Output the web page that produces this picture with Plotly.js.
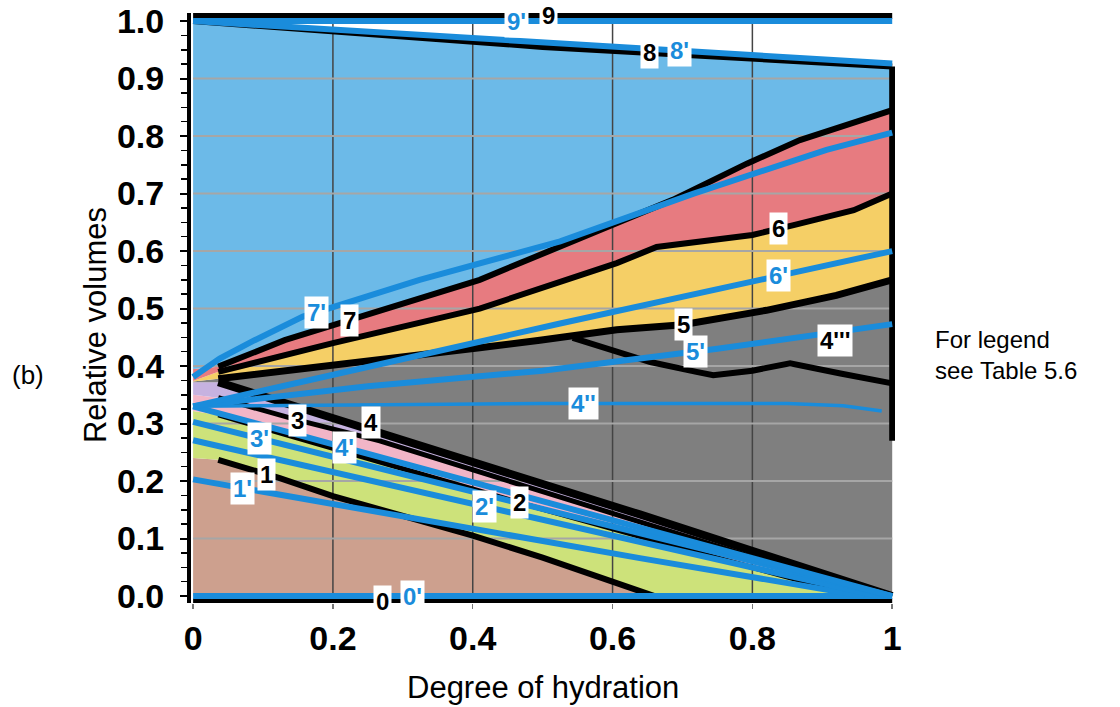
<!DOCTYPE html>
<html><head><meta charset="utf-8">
<script src="https://cdn.plot.ly/plotly-3.0.1.min.js"></script>
<style>html,body{margin:0;padding:0;background:#fff}#chart{width:1120px;height:707px}</style>
</head><body><div id="chart"></div>
<script>
// ---------- data ----------
const xTickVals = [0, 0.2, 0.4, 0.6, 0.8, 1];
const xTickText = ['0', '0.2', '0.4', '0.6', '0.8', '1'];
const yTickVals = [0, 0.1, 0.2, 0.3, 0.4, 0.5, 0.6, 0.7, 0.8, 0.9, 1.0];
const yTickText = ['0.0', '0.1', '0.2', '0.3', '0.4', '0.5', '0.6', '0.7', '0.8', '0.9', '1.0'];

// black boundary curves (model 1)
const line0X = [0, 1];
const line0Y = [-0.009, -0.009];
const line1X = [0, 0.036, 0.124, 0.2, 0.3, 0.4, 0.5, 0.66];
const line1Y = [0.24, 0.237, 0.205, 0.174, 0.14, 0.105, 0.067, 0.0];
const line2X = [0, 0.036, 0.267, 0.468, 0.7, 0.95];
const line2Y = [0.322, 0.315, 0.232, 0.162, 0.083, 0.0];
const line3X = [0, 0.036, 0.15, 0.267, 0.5, 0.7, 0.98];
const line3Y = [0.35, 0.345, 0.306, 0.27, 0.182, 0.106, 0.0];
const line4X = [0, 0.036, 0.267, 0.639, 1.0];
const line4Y = [0.372, 0.372, 0.285, 0.142, 0.0];
const line4tX = [0.543, 0.654, 0.72, 0.744, 0.8, 0.854, 0.926, 1.0];
const line4tY = [0.449, 0.407, 0.39, 0.384, 0.392, 0.405, 0.387, 0.37];
const line5X = [0, 0.036, 0.2, 0.41, 0.496, 0.606, 0.7, 0.82, 0.92, 1.0];
const line5Y = [0.373, 0.378, 0.403, 0.432, 0.445, 0.463, 0.472, 0.497, 0.523, 0.55];
const line6X = [0, 0.036, 0.2, 0.41, 0.525, 0.606, 0.663, 0.8, 0.859, 0.945, 1.0];
const line6Y = [0.374, 0.39, 0.44, 0.50, 0.545, 0.579, 0.607, 0.628, 0.645, 0.671, 0.70];
const line7X = [0, 0.036, 0.131, 0.41, 0.686, 0.792, 0.868, 1.0];
const line7Y = [0.395, 0.399, 0.445, 0.55, 0.689, 0.752, 0.793, 0.845];
const line8X = [0, 0.5, 1.0];
const line8Y = [1.0, 0.955, 0.921];
const line9X = [0, 1];
const line9Y = [1.009, 1.009];
const rightEdgeX = [1, 1];
const rightEdgeY = [0.27, 0.921];

// blue boundary curves (model 2, primed)
const p0X = [0, 1];                 const p0Y = [0, 0];
const p1X = [0, 0.639, 0.96];       const p1Y = [0.203, 0.066, 0.0];
const p2X = [0, 0.98];              const p2Y = [0.271, 0.0];
const p3X = [0, 1.0];               const p3Y = [0.303, 0.0];
const p4X = [0, 1.0];               const p4Y = [0.33, 0.0];
const p4dX = [0, 0.5, 0.85, 0.93, 0.985];
const p4dY = [0.33, 0.335, 0.335, 0.331, 0.322];
const p5X = [0, 0.25, 0.5, 0.75, 1.0];
const p5Y = [0.33, 0.365, 0.392, 0.43, 0.473];
const p6X = [0, 0.525, 1.0];        const p6Y = [0.33, 0.474, 0.60];
const p7X = [0, 0.038, 0.088, 0.157, 0.324, 0.525, 0.716, 0.906, 1.0];
const p7Y = [0.381, 0.413, 0.445, 0.486, 0.55, 0.617, 0.70, 0.776, 0.806];
const p8X = [0, 0.525, 1.0];        const p8Y = [1.0, 0.961, 0.926];
const p9X = [0, 1];                 const p9Y = [1.0, 1.0];

// ---------- styles ----------
const BLUE = '#1a8cdb';
const fillBands = [
  {up: [line1X, line1Y], lo: [p0X, p0Y], color: '#cda08e'},
  {up: [line2X, line2Y], lo: [line1X, line1Y], color: '#cde27a'},
  {up: [line3X, line3Y], lo: [line2X, line2Y], color: '#f2b5c7'},
  {up: [line4X, line4Y], lo: [line3X, line3Y], color: '#c6b2e0'},
  {up: [line5X, line5Y], lo: [line4X, line4Y], color: '#7f7f7f'},
  {up: [line6X, line6Y], lo: [line5X, line5Y], color: '#f5cf66'},
  {up: [line7X, line7Y], lo: [line6X, line6Y], color: '#e77b80'},
  {up: [line8X, line8Y], lo: [line7X, line7Y], color: '#6cbae8'}
];
const blackLines = [
  {c: [line0X, line0Y], w: 6, s: 0},
  {c: [line1X, line1Y], w: 6, s: 1},
  {c: [line2X, line2Y], w: 5, s: 1},
  {c: [line3X, line3Y], w: 5, s: 1},
  {c: [line4X, line4Y], w: 8, s: 1},
  {c: [line4tX, line4tY], w: 6, s: 0},
  {c: [line5X, line5Y], w: 7, s: 1},
  {c: [line6X, line6Y], w: 6, s: 1},
  {c: [line7X, line7Y], w: 6, s: 1},
  {c: [line8X, line8Y], w: 6, s: 0},
  {c: [line9X, line9Y], w: 6, s: 0},
  {c: [rightEdgeX, rightEdgeY], w: 6, s: 0}
];
const blueLines = [
  {c: [p0X, p0Y], w: 6}, {c: [p1X, p1Y], w: 6}, {c: [p2X, p2Y], w: 6},
  {c: [p3X, p3Y], w: 6}, {c: [p4X, p4Y], w: 6}, {c: [p4dX, p4dY], w: 3.5},
  {c: [p5X, p5Y], w: 6}, {c: [p6X, p6Y], w: 6}, {c: [p7X, p7Y], w: 6},
  {c: [p8X, p8Y], w: 6}, {c: [p9X, p9Y], w: 6}
];
// curve labels: text, curve, x where placed, primed (blue) or not, pixel shift
const curveLabels = [
  {t: '0', c: [line0X, line0Y], x: 0.271, p: false},
  {t: "0'", c: [p0X, p0Y], x: 0.314, p: true},
  {t: '1', c: [line1X, line1Y], x: 0.105, p: false},
  {t: "1'", c: [p1X, p1Y], x: 0.071, p: true},
  {t: '2', c: [line2X, line2Y], x: 0.467, p: false},
  {t: "2'", c: [p2X, p2Y], x: 0.417, p: true},
  {t: '3', c: [line3X, line3Y], x: 0.150, p: false},
  {t: "3'", c: [p3X, p3Y], x: 0.095, p: true},
  {t: '4', c: [line4X, line4Y], x: 0.255, p: false, dy: 7},
  {t: "4'", c: [p4X, p4Y], x: 0.217, p: true},
  {t: "4''", c: [p4dX, p4dY], x: 0.558, p: true},
  {t: "4'''", c: [line4tX, line4tY], x: 0.918, p: false, dy: 32},
  {t: '5', c: [line5X, line5Y], x: 0.701, p: false},
  {t: "5'", c: [p5X, p5Y], x: 0.718, p: true},
  {t: '6', c: [line6X, line6Y], x: 0.837, p: false},
  {t: "6'", c: [p6X, p6Y], x: 0.837, p: true},
  {t: '7', c: [line7X, line7Y], x: 0.224, p: false},
  {t: "7'", c: [p7X, p7Y], x: 0.177, p: true},
  {t: '8', c: [line8X, line8Y], x: 0.653, p: false},
  {t: "8'", c: [p8X, p8Y], x: 0.696, p: true},
  {t: "9'", c: [p9X, p9Y], x: 0.463, p: true},
  {t: '9', c: [line9X, line9Y], x: 0.508, p: false}
];

// ---------- build ----------
function interp(xs, ys, x) {
  for (let i = 0; i < xs.length - 1; i++) {
    if (x >= xs[i] && x <= xs[i + 1]) {
      const f = (x - xs[i]) / (xs[i + 1] - xs[i]);
      return ys[i] + f * (ys[i + 1] - ys[i]);
    }
  }
  return ys[ys.length - 1];
}
const traces = [];
fillBands.forEach(b => {
  traces.push({
    type: 'scatter', mode: 'none', fill: 'toself', fillcolor: b.color,
    x: b.up[0].concat(b.lo[0].slice().reverse()),
    y: b.up[1].concat(b.lo[1].slice().reverse()),
    hoverinfo: 'skip', showlegend: false
  });
});
// grid lines drawn over the coloured areas
const yLo = line0Y[0], yHi = line9Y[0];
const gvx = [], gvy = [];
xTickVals.filter(v => v > 0 && v < 1).forEach(v => { gvx.push(v, v, null); gvy.push(yLo, yHi, null); });
traces.push({type: 'scatter', mode: 'lines', x: gvx, y: gvy, line: {color: '#444', width: 1.5}, hoverinfo: 'skip', showlegend: false});
const ghx = [], ghy = [];
yTickVals.filter(v => v > 0 && v < 1).forEach(v => { ghx.push(0, 1, null); ghy.push(v, v, null); });
traces.push({type: 'scatter', mode: 'lines', x: ghx, y: ghy, line: {color: '#a6a6a6', width: 2}, hoverinfo: 'skip', showlegend: false});

blackLines.forEach(l => {
  traces.push({type: 'scatter', mode: 'lines', x: l.c[0].slice(l.s), y: l.c[1].slice(l.s),
    line: {color: '#000', width: l.w}, hoverinfo: 'skip', showlegend: false, cliponaxis: false});
});
blueLines.forEach(l => {
  traces.push({type: 'scatter', mode: 'lines', x: l.c[0], y: l.c[1],
    line: {color: BLUE, width: l.w}, hoverinfo: 'skip', showlegend: false, cliponaxis: false});
});

const annotations = curveLabels.map(a => ({
  x: a.x, y: interp(a.c[0], a.c[1], a.x), xref: 'x', yref: 'y', text: a.t, showarrow: false,
  yshift: a.dy || 0, bgcolor: '#ffffff', borderpad: 2,
  font: {family: 'Arial, Liberation Sans, sans-serif', size: 24, weight: 'bold', color: a.p ? BLUE : '#000'}
}));
const txtFont = {family: 'Arial, Liberation Sans, sans-serif', size: 24, color: '#000'};
annotations.push(
  {xref: 'paper', yref: 'paper', x: 0.5, y: -0.144, text: 'Degree of hydration', showarrow: false,
   xanchor: 'center', yanchor: 'middle', font: {family: 'Arial, Liberation Sans, sans-serif', size: 31, color: '#000'}},
  {xref: 'paper', yref: 'paper', x: -0.1365, y: 0.471, text: 'Relative volumes', showarrow: false, textangle: -90,
   xanchor: 'center', yanchor: 'middle', font: {family: 'Arial, Liberation Sans, sans-serif', size: 31, color: '#000'}},
  {xref: 'paper', yref: 'paper', x: -0.2317, y: 0.386, text: '(b)', showarrow: false,
   xanchor: 'center', yanchor: 'middle', font: {family: 'Arial, Liberation Sans, sans-serif', size: 26, color: '#000'}},
  {xref: 'paper', yref: 'paper', x: 1.0535, y: 0.42, text: 'For legend<br>see Table 5.6', showarrow: false,
   xanchor: 'left', yanchor: 'middle', align: 'left', font: txtFont}
);

const tickFont = {family: 'Arial, Liberation Sans, sans-serif', size: 34, weight: 'bold', color: '#000'};
const layout = {
  width: 1120, height: 707,
  margin: {l: 191, r: 225, t: 13, b: 104},
  paper_bgcolor: '#fff', plot_bgcolor: '#fff',
  showlegend: false,
  xaxis: {
    range: [-0.003, 1.004], tickmode: 'array', tickvals: xTickVals, ticktext: xTickText,
    showgrid: false, zeroline: false, showline: false,
    ticks: 'outside', ticklen: 5, tickwidth: 1.5, tickcolor: '#777',
    ticklabelstandoff: 0, tickfont: tickFont
  },
  yaxis: {
    range: [-0.012, 1.014], tickmode: 'array', tickvals: yTickVals, ticktext: yTickText,
    showgrid: false, zeroline: false, showline: true, linecolor: '#000', linewidth: 4,
    ticks: 'outside', ticklen: 7, tickwidth: 2, tickcolor: '#000',
    minor: {tickmode: 'linear', tick0: 0, dtick: 0.025, ticks: 'outside', ticklen: 6, tickwidth: 1.5, tickcolor: '#000'},
    ticklabelstandoff: 9, tickfont: tickFont
  },
  annotations: annotations
};
Plotly.newPlot('chart', traces, layout, {displayModeBar: false, staticPlot: true});
</script>
</body></html>
